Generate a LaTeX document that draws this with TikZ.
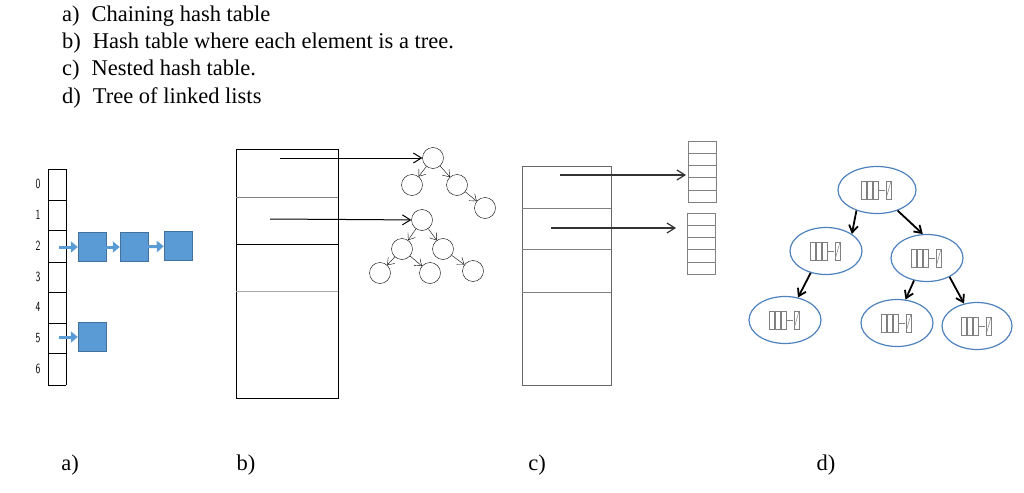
\documentclass[tikz,border=0pt]{standalone}
\usepackage{fontspec}
\setmainfont{Liberation Serif}
\usetikzlibrary{arrows.meta,shapes.geometric}
\definecolor{bl}{HTML}{5B9BD5}
\definecolor{bld}{HTML}{41719C}
\definecolor{ell}{HTML}{4F81BD}
\tikzset{
  txt/.style={anchor=base west,font=\fontsize{22.5}{22.5}\selectfont,inner sep=0},
  captxt/.style={anchor=base,font=\fontsize{22.5}{22.5}\selectfont,inner sep=0},
  idx/.style={font=\sffamily\fontsize{14}{14}\selectfont,inner sep=0,xscale=0.7},
  lbox/.style={draw=bld,fill=bl,minimum width=28,minimum height=29,inner sep=0},
  barr/.style={draw=bl,line width=3,-{Triangle[length=7,width=11]}},
  tn/.style={circle,draw,minimum size=21,inner sep=0},
  tarr/.style={-{Straight Barb[length=6,width=9]},thin},
  harr/.style={-{Straight Barb[length=8,width=10]},line width=1},
  en/.style={ellipse,draw=ell,line width=1.2,minimum width=72,minimum height=47,inner sep=0},
  darr/.style={-{Straight Barb[length=7,width=9]},line width=1.8},
}
\newcommand{\glyph}[1]{%
 \begin{scope}[shift={(#1)},draw=gray,line width=0.5]
  \draw (-16,-9) rectangle (-11,9); \draw (-10,-9) rectangle (-5,9); \draw (-4,-9) rectangle (1,9);
  \draw (1,0) -- (8,0); \draw (9,-9) rectangle (14,9); \draw (9,9) -- (14,-9);
 \end{scope}}
\begin{document}
\begin{tikzpicture}[x=1pt,y=-1pt]
\useasboundingbox (0,0) rectangle (1024,492);
\node[txt] (t1) at (62,22) {a)\hspace{12pt}Chaining hash table};
\node[txt] (t2) at (62,49) {b)\hspace{12pt}Hash table where each element is a tree.};
\node[txt] (t3) at (62,76) {c)\hspace{12pt}Nested hash table.};
\node[txt] (t4) at (62,103) {d)\hspace{12pt}Tree of linked lists};

% a
\draw (48,169) -- (66,169) -- (66,385) (48,169) -- (48,385);
\foreach \y in {200,230,262,292,323,353,385} \draw (48,\y) -- (66,\y);
\foreach \i/\y in {0/184,1/215,2/246,3/277,4/307,5/338,6/369} \node[idx] (i\i) at (38,\y) {\i};
\node[lbox] (a1) at (92,247) {};
\node[lbox] (a2) at (134,247) {};
\node[lbox] (a3) at (178,246) {};
\node[lbox] (a4) at (92,337) {};
\coordinate (s2) at (59,247); \coordinate (s5) at (59,337);
\draw[barr] (s2) -- (a1);
\draw[barr] (a1) -- (a2);
\draw[barr] (a2) -- (a3);
\draw[barr] (s5) -- (a4);

% b
\draw (236,149) rectangle (338,398);
\draw[gray] (236,197) -- (338,197);
\draw (236,244) -- (338,244);
\draw[gray!70] (236,291) -- (338,291);
\node[tn] (r1) at (433,158) {};
\node[tn] (r1a) at (412,185) {};
\node[tn] (r1b) at (457,185) {};
\node[tn] (r1c) at (485,208) {};
\node[tn] (r2) at (422,220) {};
\node[tn] (r2a) at (402,249) {};
\node[tn] (r2b) at (443,249) {};
\node[tn] (r2c) at (380,273) {};
\node[tn] (r2d) at (430,273) {};
\node[tn] (r2e) at (473,271) {};
\coordinate (b1) at (280,158); \coordinate (b2) at (270,219);
\draw[harr] (b1) -- (r1);
\draw[harr] (b2) -- (r2);
\foreach \a/\b in {r1/r1a,r1/r1b,r1b/r1c,r2/r2a,r2/r2b,r2a/r2c,r2a/r2d,r2b/r2e} \draw[tarr] (\a) -- (\b);

% c
\draw[gray!80!black] (522,166) rectangle (611,385);
\foreach \y in {208,249,292} \draw[gray] (522,\y) -- (611,\y);
\node[draw=gray,minimum width=28,minimum height=61,inner sep=0] (h1) at (702,172) {};
\node[draw=gray,minimum width=28,minimum height=61,inner sep=0] (h2) at (701,244) {};
\foreach \k in {1,2,3,4} {\draw[gray] (688,141+12.2*\k) -- (716,141+12.2*\k); \draw[gray] (687,213+12.2*\k) -- (715,213+12.2*\k);}
\coordinate (c1) at (560,175); \coordinate (c1e) at (686,175);
\coordinate (c2) at (551,228); \coordinate (c2e) at (676,228);
\draw[harr,line width=1.2,black!80] (c1) -- (c1e);
\draw[harr,line width=1.2,black!80] (c2) -- (c2e);

% d
\node[en,minimum width=78] (d0) at (877,190) {};
\node[en] (d1) at (826,251) {};
\node[en] (d2) at (927,258) {};
\node[en] (d3) at (785,320) {};
\node[en] (d4) at (897,323) {};
\node[en,minimum width=70] (d5) at (977,326) {};
\foreach \n in {d0,d1,d2,d3,d4,d5} \glyph{\n};
\draw[darr] (d0.225) -- (d1.north east);
\draw[darr] (d0.-45) -- (d2.100);
\draw[darr] (d1.235) -- (d3.60);
\draw[darr] (d2.240) -- (d4.70);
\draw[darr] (d2.-40) -- (d5.120);

\node[captxt] (l1) at (70,470) {a)};
\node[captxt] (l2) at (246,470) {b)};
\node[captxt] (l3) at (537,470) {c)};
\node[captxt] (l4) at (826,470) {d)};
\end{tikzpicture}
\end{document}
